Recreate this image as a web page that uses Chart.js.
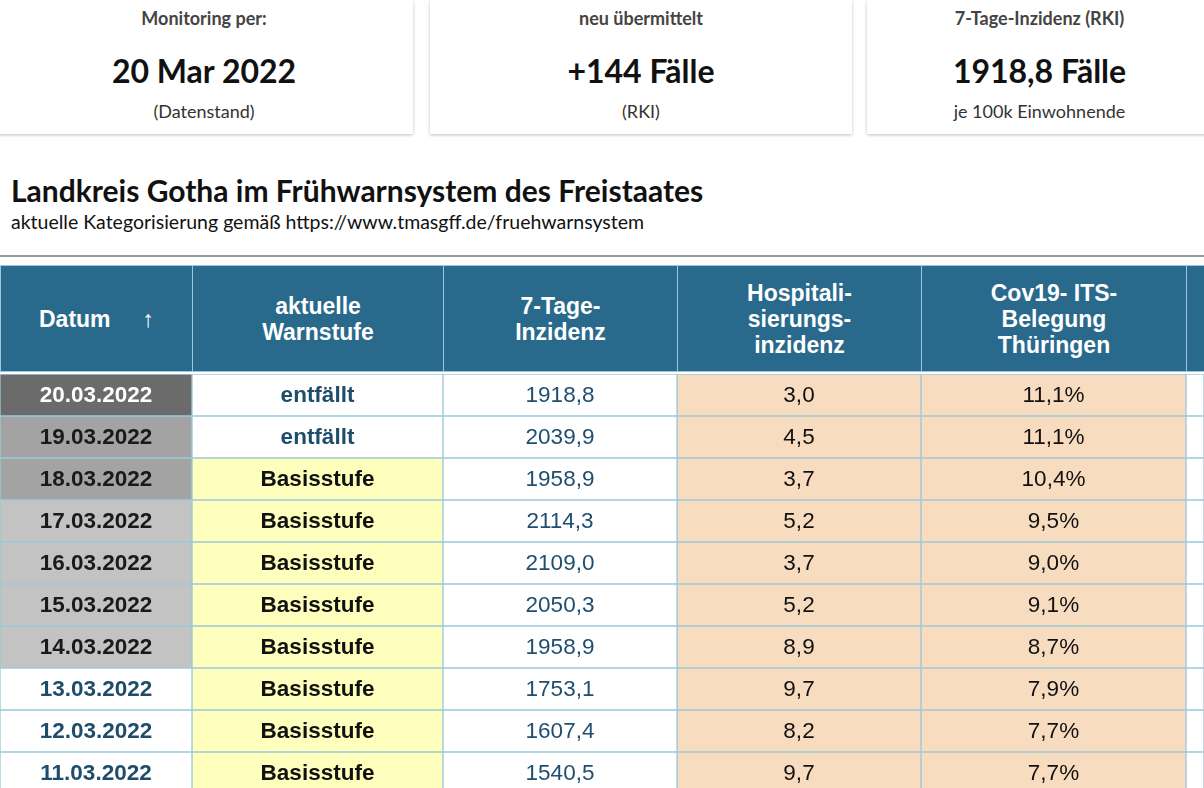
<!DOCTYPE html>
<html><head><meta charset="utf-8">
<script src="https://cdn.jsdelivr.net/npm/chart.js@4"></script>
<style>
body{margin:0;width:1204px;height:788px;overflow:hidden;background:#fff;font-family:Lato,sans-serif;position:relative}
.card{position:absolute;top:0;height:134px;background:#fff;box-shadow:0 1px 3px rgba(0,0,0,.25);text-align:center;color:#222}
.card .l{font-weight:bold;font-size:18px;color:#444;margin-top:7px}
.card .v{font-weight:bold;font-size:32px;margin-top:22px;color:#111}
.card .s{font-size:18px;margin-top:10px;color:#333}
#title{position:absolute;left:11px;top:172px;font-size:30px;font-weight:bold;color:#111}
#sub{position:absolute;left:11px;top:210px;font-size:19.5px;color:#111}
#rule{position:absolute;left:0;right:0;top:255px;border-top:2px solid #999}
#head{position:absolute;top:265px;left:0;height:109px;width:1204px}
.h{position:absolute;top:0;height:107px;background:#296a8c;color:#fff;font:bold 23px "Liberation Sans",Arial,sans-serif;display:flex;align-items:center;justify-content:center;text-align:center;line-height:26px;border:1px solid #9cc8dc;box-sizing:border-box}
#wrap{position:absolute;top:374px;left:0;width:1204px;height:420px}
</style></head><body>
<div class="card" style="left:-5px;width:418px"><div class="l">Monitoring per:</div><div class="v">20 Mar 2022</div><div class="s">(Datenstand)</div></div>
<div class="card" style="left:430px;width:422px"><div class="l">neu übermittelt</div><div class="v">+144 Fälle</div><div class="s">(RKI)</div></div>
<div class="card" style="left:867px;width:345px"><div class="l">7-Tage-Inzidenz (RKI)</div><div class="v">1918,8 Fälle</div><div class="s">je 100k Einwohnende</div></div>
<div id="title">Landkreis Gotha im Frühwarnsystem des Freistaates</div>
<div id="sub">aktuelle Kategorisierung gemäß https://www.tmasgff.de/fruehwarnsystem</div>
<div id="rule"></div>
<div id="head"></div>
<div id="wrap"><canvas id="chart"></canvas></div>
<script>
// table content
const headers = ['Datum&nbsp;&nbsp;&nbsp;&nbsp;&nbsp;↑', 'aktuelle<br>Warnstufe', '7-Tage-<br>Inzidenz', 'Hospitali-<br>sierungs-<br>inzidenz', 'Cov19- ITS-<br>Belegung<br>Thüringen', ''];
const dates = ['20.03.2022','19.03.2022','18.03.2022','17.03.2022','16.03.2022','15.03.2022','14.03.2022','13.03.2022','12.03.2022','11.03.2022'];
const warnstufe = ['entfällt','entfällt','Basisstufe','Basisstufe','Basisstufe','Basisstufe','Basisstufe','Basisstufe','Basisstufe','Basisstufe'];
const inzidenz = ['1918,8','2039,9','1958,9','2114,3','2109,0','2050,3','1958,9','1753,1','1607,4','1540,5'];
const hosp = ['3,0','4,5','3,7','5,2','3,7','5,2','8,9','9,7','8,2','9,7'];
const its = ['11,1%','11,1%','10,4%','9,5%','9,0%','9,1%','8,7%','7,9%','7,7%','7,7%'];
const colEdges = [0, 192, 443, 677, 921, 1186, 1204];

// header cells
const head = document.getElementById('head');
headers.forEach((h, i) => {
  const d = document.createElement('div');
  d.className = 'h';
  d.style.left = colEdges[i] + 'px';
  d.style.width = (colEdges[i + 1] - colEdges[i] + 1) + 'px';
  d.innerHTML = h;
  head.appendChild(d);
});

const dateBg = dates.map((d, i) => i === 0 ? '#6b6b6b' : i < 3 ? '#a3a3a3' : i < 7 ? '#c3c3c3' : '#ffffff');
const dateFg = dates.map((d, i) => i === 0 ? '#ffffff' : i < 7 ? '#1a1a1a' : '#1e4d6b');
const warnBg = warnstufe.map(w => w === 'Basisstufe' ? '#ffffbd' : '#ffffff');
const warnFg = warnstufe.map(w => w === 'Basisstufe' ? '#111111' : '#1e4d6b');

function col(i, texts, bg, fg, bold) {
  return {
    data: dates.map(() => [colEdges[i], colEdges[i + 1]]),
    backgroundColor: bg, borderColor: '#9cc8dc', borderWidth: 1, borderSkipped: false,
    texts: texts, fg: fg, bold: bold
  };
}

const cellText = {
  id: 'cellText',
  afterDatasetsDraw(chart) {
    const c = chart.ctx;
    chart.data.datasets.forEach((ds, di) => {
      if (!ds.texts) return;
      chart.getDatasetMeta(di).data.forEach((el, i) => {
        c.save();
        c.font = (ds.bold ? 'bold ' : '') + '22.5px "Liberation Sans", Arial, sans-serif';
        c.fillStyle = Array.isArray(ds.fg) ? ds.fg[i] : ds.fg;
        c.textAlign = 'center';
        c.textBaseline = 'middle';
        c.fillText(ds.texts[i], (el.x + el.base) / 2, el.y + 1);
        c.restore();
      });
    });
  }
};

new Chart(document.getElementById('chart'), {
  type: 'bar',
  data: {
    labels: dates,
    datasets: [
      col(0, dates, dateBg, dateFg, true),
      col(1, warnstufe, warnBg, warnFg, true),
      col(2, inzidenz, '#ffffff', '#1f4e6e', false),
      col(3, hosp, '#f8dcc0', '#111111', false),
      col(4, its, '#f8dcc0', '#111111', false),
      col(5, null, '#ffffff', '#111', false)
    ]
  },
  options: {
    indexAxis: 'y', responsive: true, maintainAspectRatio: false, animation: false,
    grouped: false, barPercentage: 1, categoryPercentage: 1,
    layout: { padding: 0 },
    plugins: { legend: { display: false }, tooltip: { enabled: false } },
    scales: {
      x: { type: 'linear', min: 0, max: 1204, display: false },
      y: { display: false, stacked: true }
    }
  },
  plugins: [cellText]
});
</script>
</body></html>
